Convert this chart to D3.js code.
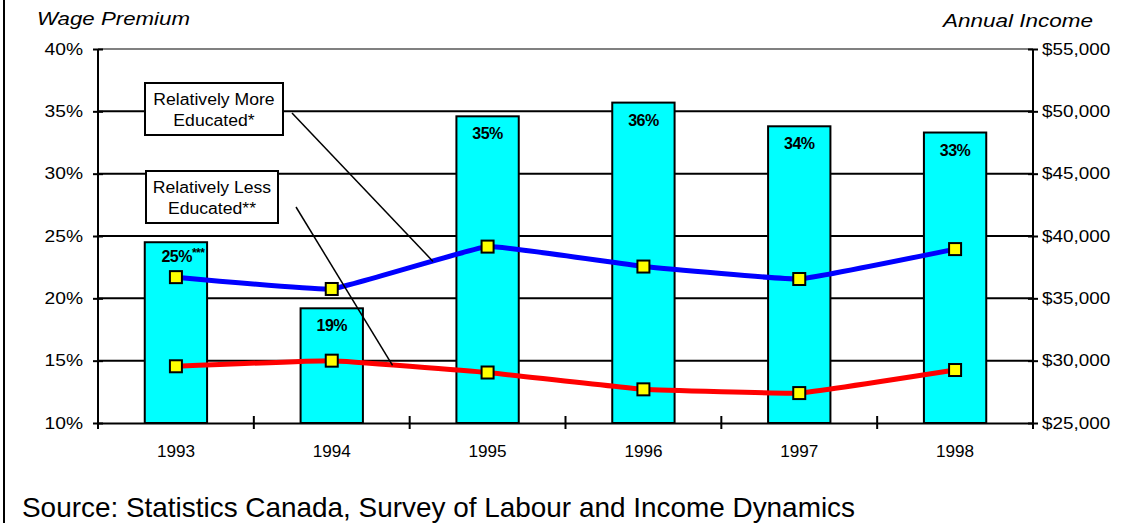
<!DOCTYPE html>
<html lang="en">
<head>
<meta charset="UTF-8">
<title>Wage Premium and Annual Income</title>
<script src="https://d3js.org/d3.v7.min.js"></script>
<style>
  body { margin: 0; background: #fff; }
  svg { display: block; font-family: "Liberation Sans", Arial, sans-serif; }
</style>
</head>
<body>
<div id="chart"></div>
<script>
  // data
  const years = ["1993", "1994", "1995", "1996", "1997", "1998"];
  const premium = [24.5, 19.2, 34.6, 35.7, 33.8, 33.3];
  const premiumLabels = ["25%", "19%", "35%", "36%", "34%", "33%"];
  const moreEducated = [36700, 35750, 39150, 37550, 36550, 38950];
  const lessEducated = [29550, 30000, 29050, 27700, 27400, 29250];
  const leftTicks = [10, 15, 20, 25, 30, 35, 40];
  const rightTicks = [25000, 30000, 35000, 40000, 45000, 50000, 55000];

  const width = 1133, height = 523;
  const margin = { top: 49, right: 100, bottom: 100, left: 98 };
  const innerW = width - margin.left - margin.right;
  const innerH = height - margin.top - margin.bottom;

  const svg = d3.select("#chart").append("svg")
    .attr("width", width)
    .attr("height", height);

  // stretch text horizontally (the original lettering is wider than Arial)
  function stretch(sel, k) {
    sel.each(function () {
      const len = this.getComputedTextLength();
      d3.select(this).attr("textLength", len * k).attr("lengthAdjust", "spacingAndGlyphs");
    });
  }

  // frame line on the left
  svg.append("line")
    .attr("x1", 4).attr("x2", 4).attr("y1", 0).attr("y2", height)
    .attr("stroke", "#000").attr("stroke-width", 2);

  const g = svg.append("g").attr("transform", `translate(${margin.left},${margin.top})`);

  const x = d3.scaleBand().domain(years).range([0, innerW]).paddingInner(0.6).paddingOuter(0.3);
  const yL = d3.scaleLinear().domain([10, 40]).range([innerH, 0]);
  const yR = d3.scaleLinear().domain([25000, 55000]).range([innerH, 0]);
  const cx = d => x(d) + x.bandwidth() / 2;

  // gridlines
  g.selectAll(".grid")
    .data(leftTicks.slice(1))
    .enter().append("line")
    .attr("class", "grid")
    .attr("x1", 0).attr("x2", innerW)
    .attr("y1", d => yL(d)).attr("y2", d => yL(d))
    .attr("stroke", d => d === 40 ? "#808080" : "#000")
    .attr("stroke-width", 2);

  // bars
  g.selectAll(".bar")
    .data(premium)
    .enter().append("rect")
    .attr("class", "bar")
    .attr("x", (d, i) => x(years[i]))
    .attr("y", d => yL(d))
    .attr("width", x.bandwidth())
    .attr("height", d => yL(10) - yL(d))
    .attr("fill", "#00ffff")
    .attr("stroke", "#000")
    .attr("stroke-width", 2);

  // bar labels
  const lbl = g.selectAll(".bar-label")
    .data(premium)
    .enter().append("text")
    .attr("class", "bar-label")
    .attr("x", (d, i) => cx(years[i]))
    .attr("y", d => yL(d) + 23)
    .attr("text-anchor", "middle")
    .attr("font-size", 16)
    .attr("font-weight", "bold")
    .attr("letter-spacing", -0.5)
    .text((d, i) => premiumLabels[i]);
  lbl.filter((d, i) => i === 0)
    .attr("x", cx(years[0]) + 7)
    .attr("y", yL(premium[0]) + 20)
    .append("tspan")
    .attr("font-size", 12)
    .attr("dy", -5)
    .text("***");

  // axes
  const axisL = g.append("g")
    .call(d3.axisLeft(yL).tickValues(leftTicks).tickSize(5).tickFormat(d => d + "%"));
  const axisR = g.append("g")
    .attr("transform", `translate(${innerW},0)`)
    .call(d3.axisRight(yR).tickValues(rightTicks).tickSize(5).tickFormat(d => "$" + d3.format(",")(d)));
  const axisB = g.append("g")
    .attr("transform", `translate(0,${innerH})`)
    .call(d3.axisBottom(x).tickSize(0).tickPadding(20));

  [axisL, axisR, axisB].forEach(a => {
    a.select(".domain").attr("stroke", "#000").attr("stroke-width", 2);
    a.selectAll(".tick line").attr("stroke", "#000").attr("stroke-width", 2);
    a.selectAll("text").attr("fill", "#000").attr("font-family", "Liberation Sans, Arial, sans-serif");
  });
  axisL.selectAll(".tick line").attr("x2", -5).attr("x1", 5);
  axisR.selectAll(".tick line").attr("x2", 5).attr("x1", -5);
  axisL.selectAll(".tick text").attr("x", -15).attr("font-size", 16).call(stretch, 1.2);
  axisR.selectAll(".tick text").attr("x", 9).attr("font-size", 16).call(stretch, 1.18);
  axisB.selectAll(".tick text").attr("font-size", 16).attr("dy", "0.9em").call(stretch, 1.07);
  // extend the vertical axes a bit below the baseline
  axisL.select(".domain").attr("d", `M0,0V${innerH + 6}`);
  axisR.select(".domain").attr("d", `M0,0V${innerH + 6}`);

  // category separators on the x axis
  g.selectAll(".sep")
    .data(years.slice(1))
    .enter().append("line")
    .attr("class", "sep")
    .attr("x1", d => x(d) - x.step() * 0.3).attr("x2", d => x(d) - x.step() * 0.3)
    .attr("y1", innerH - 7).attr("y2", innerH + 6)
    .attr("stroke", "#000").attr("stroke-width", 2);

  // income lines
  const line = d3.line()
    .x((d, i) => cx(years[i]))
    .y(d => yR(d))
    .curve(d3.curveCardinal.tension(0.75));

  const series = [
    { values: moreEducated, color: "#0000ff" },
    { values: lessEducated, color: "#ff0000" }
  ];

  series.forEach(s => {
    g.append("path")
      .datum(s.values)
      .attr("d", line)
      .attr("fill", "none")
      .attr("stroke", s.color)
      .attr("stroke-width", 5);
  });

  // annotation boxes with leader lines
  const notes = [
    { lines: ["Relatively More", "Educated*"], box: [145, 83, 138, 52], from: [292, 113], values: moreEducated, t: 0.65 },
    { lines: ["Relatively Less", "Educated**"], box: [146, 171, 132, 52], from: [296, 207], values: lessEducated, t: 0.39 }
  ];

  notes.forEach(n => {
    const i0 = 1, i1 = 2;
    const tx = cx(years[i0]) + n.t * x.step() + margin.left;
    const ty = yR(n.values[i0] + n.t * (n.values[i1] - n.values[i0])) + margin.top;
    svg.append("line")
      .attr("x1", n.from[0]).attr("y1", n.from[1])
      .attr("x2", tx).attr("y2", ty)
      .attr("stroke", "#000").attr("stroke-width", 1.5);
  });

  series.forEach(s => {
    g.selectAll(null)
      .data(s.values)
      .enter().append("rect")
      .attr("x", (d, i) => cx(years[i]) - 6)
      .attr("y", d => yR(d) - 6)
      .attr("width", 12)
      .attr("height", 12)
      .attr("fill", "#ffff00")
      .attr("stroke", "#000")
      .attr("stroke-width", 2);
  });

  notes.forEach(n => {
    const [bx, by, bw, bh] = n.box;
    svg.append("rect")
      .attr("x", bx).attr("y", by).attr("width", bw).attr("height", bh)
      .attr("fill", "#fff").attr("stroke", "#000").attr("stroke-width", 2);
    svg.selectAll(null)
      .data(n.lines)
      .enter().append("text")
      .attr("x", bx + bw / 2)
      .attr("y", (d, i) => by + 22 + i * 21)
      .attr("text-anchor", "middle")
      .attr("font-size", 16)
      .text(d => d)
      .call(stretch, 1.1);
  });

  // titles
  svg.append("text")
    .attr("x", 37).attr("y", 25)
    .attr("font-size", 18)
    .attr("font-style", "italic")
    .text("Wage Premium")
    .attr("textLength", 153).attr("lengthAdjust", "spacingAndGlyphs");
  svg.append("text")
    .attr("x", 1093).attr("y", 27)
    .attr("text-anchor", "end")
    .attr("font-size", 18)
    .attr("font-style", "italic")
    .text("Annual Income")
    .attr("textLength", 150).attr("lengthAdjust", "spacingAndGlyphs");

  svg.append("text")
    .attr("x", 22).attr("y", 517)
    .attr("font-size", 28)
    .text("Source: Statistics Canada, Survey of Labour and Income Dynamics")
    .attr("textLength", 833).attr("lengthAdjust", "spacingAndGlyphs");
</script>
</body>
</html>
